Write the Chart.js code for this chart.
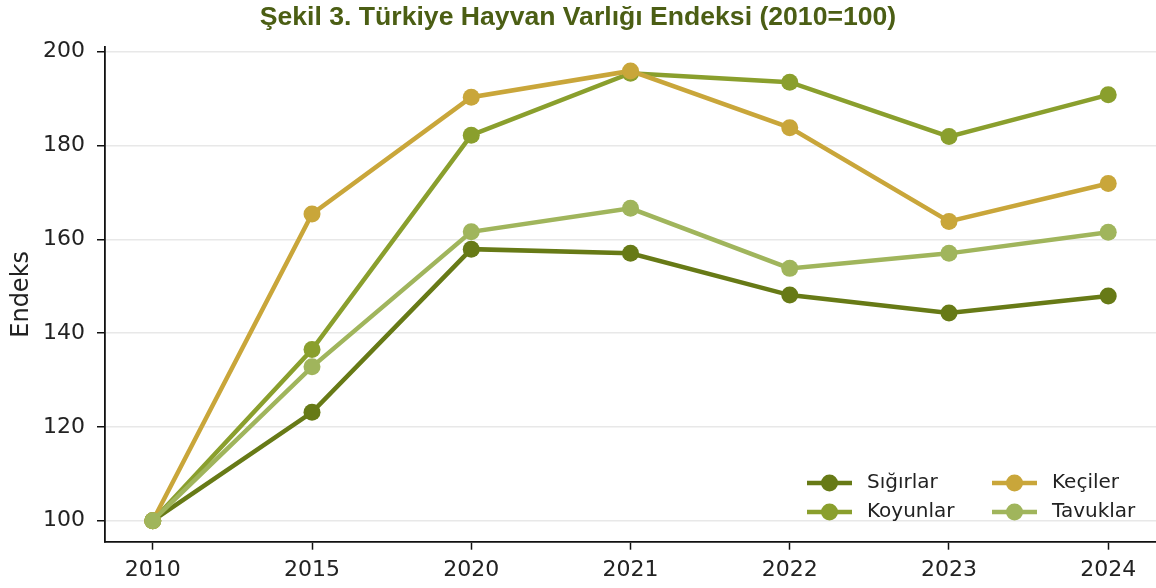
<!DOCTYPE html>
<html>
<head>
<meta charset="utf-8">
<script src="https://cdn.jsdelivr.net/npm/chart.js@4"></script>
<style>
  body { margin: 0; background: #fff; }
  canvas { display: block; }
</style>
</head>
<body>
<canvas id="myChart" width="1156" height="588"></canvas>
<script>
// data
var years = ["2010", "2015", "2020", "2021", "2022", "2023", "2024"];
var yTicks = [100, 120, 140, 160, 180, 200];
var sigirlar = [100, 123.1, 157.9, 157.0, 148.1, 144.3, 147.9];
var koyunlar = [100, 136.5, 182.2, 195.4, 193.5, 181.9, 190.8];
var keciler = [100, 165.4, 190.3, 195.9, 183.8, 163.8, 171.9];
var tavuklar = [100, 132.8, 161.6, 166.6, 153.8, 157.0, 161.5];

function toPoints(arr) {
    return arr.map(function (v, i) { return { x: i, y: v }; });
}

function series(label, values, color, order) {
    return {
        label: label,
        data: toPoints(values),
        borderColor: color,
        backgroundColor: color,
        pointBackgroundColor: color,
        pointBorderWidth: 0,
        pointRadius: 8.5,
        borderWidth: 4.5,
        tension: 0,
        order: order,
        clip: false
    };
}

// legend drawn inside the plot, two columns like the original
var innerLegend = {
    id: "innerLegend",
    afterDraw: function (chart) {
        var ctx = chart.ctx;
        var cols = [807, 992];
        var rows = [483, 512];
        ctx.save();
        ctx.font = "20px 'DejaVu Sans'";
        ctx.textBaseline = "middle";
        ctx.textAlign = "left";
        chart.data.datasets.forEach(function (ds, i) {
            var x = cols[Math.floor(i / 2)];
            var y = rows[i % 2];
            ctx.strokeStyle = ds.borderColor;
            ctx.lineWidth = 4.5;
            ctx.beginPath();
            ctx.moveTo(x, y);
            ctx.lineTo(x + 45, y);
            ctx.stroke();
            ctx.fillStyle = ds.borderColor;
            ctx.beginPath();
            ctx.arc(x + 22.5, y, 8.5, 0, Math.PI * 2);
            ctx.fill();
            ctx.fillStyle = "#222";
            ctx.fillText(ds.label, x + 60, y);
        });
        ctx.restore();
    }
};

new Chart(document.getElementById("myChart"), {
    type: "line",
    data: {
        datasets: [
            series("Sığırlar", sigirlar, "#677a16", 4),
            series("Koyunlar", koyunlar, "#8a9f2d", 3),
            series("Keçiler", keciler, "#c9a63a", 2),
            series("Tavuklar", tavuklar, "#a0b55c", 1)
        ]
    },
    options: {
        responsive: false,
        animation: false,
        layout: { autoPadding: false, padding: { top: 0, right: 0, bottom: 0, left: 0 } },
        plugins: {
            legend: { display: false },
            tooltip: { enabled: false },
            title: {
                display: true,
                text: "Şekil 3. Türkiye Hayvan Varlığı Endeksi (2010=100)",
                color: "#4b5e14",
                font: { family: "'Liberation Sans', Arial, sans-serif", size: 26.6, weight: "bold", lineHeight: 1.2 },
                padding: { top: 1.5, bottom: 13.6 }
            }
        },
        scales: {
            x: {
                type: "linear",
                min: -0.3,
                max: 6.3,
                afterBuildTicks: function (axis) {
                    axis.ticks = years.map(function (y, i) { return { value: i }; });
                },
                afterFit: function (scale) {
                    scale.height = 46.3;
                    scale.paddingLeft = 0;
                    scale.paddingRight = 0;
                },
                ticks: {
                    callback: function (v) { return years[v]; },
                    color: "#222",
                    font: { family: "'DejaVu Sans'", size: 22 },
                    padding: 7,
                    maxRotation: 0,
                    autoSkip: false
                },
                grid: {
                    drawOnChartArea: false,
                    drawTicks: true,
                    tickLength: 8,
                    tickColor: "#111",
                    tickWidth: 1.5
                },
                border: { display: true, color: "#111", width: 1.8 }
            },
            y: {
                min: 95.52,
                max: 200.996,
                afterBuildTicks: function (axis) {
                    axis.ticks = yTicks.map(function (v) { return { value: v }; });
                },
                afterFit: function (scale) { scale.width = 105; },
                ticks: {
                    color: "#222",
                    font: { family: "'DejaVu Sans'", size: 22 },
                    padding: 12
                },
                grid: {
                    color: "#e8e8e8",
                    lineWidth: 1.5,
                    drawTicks: true,
                    tickLength: 8,
                    tickColor: "#111",
                    tickWidth: 1.5
                },
                border: { display: true, color: "#111", width: 1.8 },
                title: {
                    display: true,
                    text: "Endeks",
                    color: "#222",
                    font: { family: "'DejaVu Sans'", size: 24 },
                    padding: { top: 7, bottom: 0 }
                }
            }
        }
    },
    plugins: [innerLegend]
});
</script>
</body>
</html>
